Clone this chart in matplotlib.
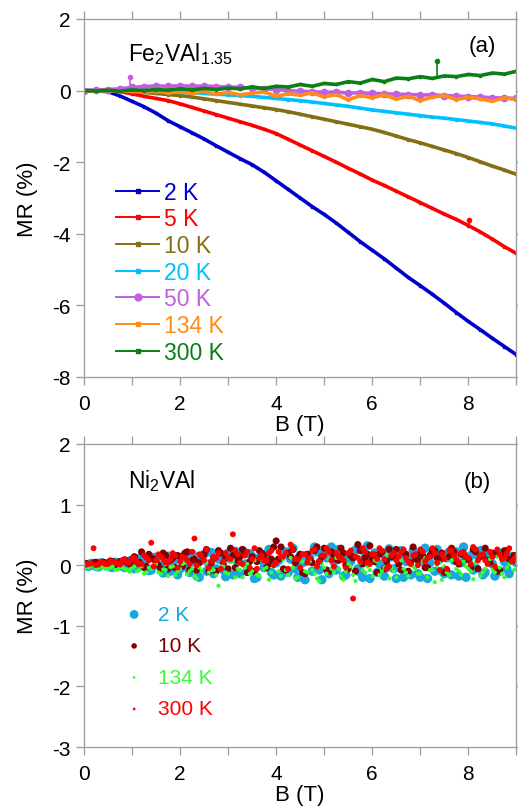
import numpy as np
import matplotlib
matplotlib.use("Agg")
import matplotlib.pyplot as plt
from matplotlib.ticker import MultipleLocator
from matplotlib.lines import Line2D

plt.rcParams['font.family'] = ['Liberation Sans', 'DejaVu Sans']
plt.rcParams['mathtext.fontset'] = 'custom'
plt.rcParams['mathtext.rm'] = 'Liberation Sans'
plt.rcParams['mathtext.it'] = 'Liberation Sans'
plt.rcParams['axes.unicode_minus'] = False

# ---- panel (a): Fe2VAl1.35, field grid 0..9 T in 0.25 T steps
B_a = np.arange(0, 9.01, 0.25)
mr_2K = [0.00, -0.01, -0.03, -0.15, -0.30, -0.45, -0.63, -0.84, -1.01, -1.18,
         -1.35, -1.54, -1.72, -1.90, -2.07, -2.28, -2.52, -2.76, -3.00, -3.24,
         -3.46, -3.70, -3.96, -4.22, -4.46, -4.70, -4.96, -5.22, -5.45, -5.69,
         -5.94, -6.20, -6.45, -6.68, -6.92, -7.15, -7.38]
mr_5K = [0.00, 0.00, -0.01, -0.03, -0.09, -0.16, -0.22, -0.28, -0.37, -0.47,
         -0.57, -0.67, -0.77, -0.87, -0.97, -1.08, -1.20, -1.36, -1.52, -1.68,
         -1.84, -2.00, -2.17, -2.33, -2.50, -2.65, -2.81, -2.97, -3.13, -3.29,
         -3.45, -3.60, -3.77, -3.95, -4.15, -4.36, -4.55]
mr_10K = [0.00, 0.00, 0.00, -0.01, -0.03, -0.05, -0.08, -0.11, -0.14, -0.18,
          -0.23, -0.28, -0.33, -0.38, -0.43, -0.48, -0.53, -0.59, -0.66, -0.73,
          -0.80, -0.87, -0.94, -1.01, -1.08, -1.17, -1.27, -1.37, -1.46, -1.56,
          -1.66, -1.76, -1.87, -1.99, -2.11, -2.22, -2.34]
mr_20K = [0.00, 0.00, -0.01, -0.01, -0.02, -0.02, -0.03, -0.04, -0.05, -0.06,
          -0.08, -0.10, -0.12, -0.14, -0.16, -0.19, -0.22, -0.25, -0.28, -0.32,
          -0.36, -0.40, -0.44, -0.49, -0.54, -0.58, -0.62, -0.66, -0.70, -0.74,
          -0.77, -0.81, -0.85, -0.89, -0.93, -0.99, -1.05]
mr_50K = [0.00, 0.01, 0.03, 0.05, 0.09, 0.11, 0.13, 0.12, 0.14, 0.12,
          0.13, 0.11, 0.10, 0.09, 0.07, 0.05, 0.03, 0.00, -0.02, -0.03,
          -0.05, -0.04, -0.07, -0.06, -0.08, -0.09, -0.10, -0.11, -0.12, -0.12,
          -0.14, -0.15, -0.17, -0.18, -0.20, -0.21, -0.22]
mr_134K = [0.00, -0.02, 0.01, -0.03, -0.01, -0.04, 0.00, -0.06, -0.03, -0.08,
           -0.02, -0.10, -0.05, -0.12, -0.07, -0.04, -0.16, -0.09, -0.13, -0.06,
           -0.18, -0.11, -0.26, -0.14, -0.20, -0.12, -0.24, -0.16, -0.28, -0.18,
           -0.14, -0.25, -0.19, -0.23, -0.30, -0.20, -0.25]
mr_300K = [0.00, -0.01, 0.01, -0.02, 0.02, 0.00, 0.03, 0.01, 0.05, 0.02,
           0.06, 0.03, 0.07, 0.05, 0.10, 0.06, 0.12, 0.10, 0.17, 0.12,
           0.20, 0.17, 0.25, 0.21, 0.31, 0.25, 0.35, 0.33, 0.39, 0.34,
           0.41, 0.39, 0.45, 0.42, 0.49, 0.46, 0.54]
labels_a = ['2 K', '5 K', '10 K', '20 K', '50 K', '134 K', '300 K']
colors_a = ['#0000CC', '#FF0000', '#847014', '#00C0FF', '#C060E0', '#FF8C1A', '#0A7F14']

# isolated spikes seen in the raw data
spike_B = [0.96, 7.34, 8.02]
spike_base = [0.10, 0.37, -3.78]
spike_top = [0.38, 0.83, -3.62]
spike_color = ['#C060E0', '#0A7F14', '#FF0000']

# ---- panel (b): Ni2VAl, up sweep on 0..9 T (0.1 T steps), down sweep in between
B_b_up = np.round(np.arange(0, 9.001, 0.1), 2)
B_b_dn = np.round(np.arange(0.05, 9.0, 0.1), 2)
mr_b_2K = [0.00, -0.02, 0.02, -0.03, 0.03, 0.01, -0.04, 0.04, -0.02, 0.05,
           0.06, -0.05, 0.02, 0.10, -0.08, 0.12, -0.04, 0.08, -0.10, 0.14,
           -0.06, 0.16, -0.12, 0.05, -0.20, 0.18, 0.02, -0.14, 0.10, -0.08,
           0.20, -0.16, 0.06, 0.24, -0.10, 0.14, -0.20, 0.08, 0.18, -0.12,
           0.04, -0.18, 0.22, 0.10, -0.06, 0.16, -0.24, 0.12, 0.30, -0.08,
           0.18, -0.14, 0.06, 0.26, -0.18, 0.10, 0.22, -0.06, -0.20, 0.32,
           0.08, -0.12, 0.20, -0.04, 0.14, -0.22, 0.24, 0.06, -0.16, 0.12,
           -0.20, 0.28, 0.04, -0.10, 0.18, -0.14, 0.22, 0.08, -0.18, 0.30,
           0.10, -0.08, 0.16, -0.16, 0.20, 0.02, -0.12, 0.18, -0.06, 0.14,
           0.04]
mr_b_2K_dn = [-0.01, 0.03, -0.02, 0.04, 0.00, -0.03, 0.05, 0.02, -0.04, 0.07,
              -0.06, 0.11, 0.03, -0.09, 0.13, 0.00, -0.13, 0.15, 0.06, -0.16,
              0.12, -0.04, 0.19, -0.18, 0.08, -0.10, 0.21, -0.06, 0.14, -0.19,
              0.10, 0.23, -0.14, 0.02, 0.19, -0.22, 0.12, -0.04, 0.26, -0.16,
              0.08, 0.20, -0.12, 0.28, -0.20, 0.04, 0.16, -0.10, 0.22, -0.24,
              0.12, 0.30, -0.08, 0.18, -0.16, 0.06, 0.25, -0.12, 0.14, -0.22,
              0.20, 0.02, -0.18, 0.27, -0.06, 0.16, -0.20, 0.10, 0.24, -0.14,
              0.06, -0.22, 0.18, 0.26, -0.10, 0.12, -0.16, 0.22, 0.04, -0.20,
              0.16, -0.04, 0.24, -0.12, 0.10, -0.18, 0.20, 0.06, -0.14, 0.12]
mr_b_10K = [0.02, 0.00, 0.04, 0.01, 0.05, 0.03, 0.06, 0.02, 0.07, 0.04,
            0.10, 0.03, 0.22, -0.02, 0.12, 0.06, -0.06, 0.16, 0.08, -0.04,
            0.14, 0.20, -0.08, 0.10, 0.04, 0.18, -0.10, 0.12, 0.24, 0.02,
            -0.06, 0.16, 0.08, 0.26, -0.12, 0.14, 0.06, 0.20, -0.04, 0.10,
            0.40, 0.30, -0.08, 0.14, 0.04, 0.18, -0.14, 0.10, 0.24, 0.06,
            0.28, -0.10, 0.16, 0.08, 0.20, -0.06, 0.12, 0.34, 0.02, 0.18,
            0.10, -0.12, 0.22, 0.06, 0.14, 0.26, -0.08, 0.18, 0.04, 0.12,
            0.20, -0.04, 0.16, 0.24, 0.08, -0.12, 0.14, 0.22, 0.02, 0.18,
            0.10, 0.26, -0.06, 0.16, 0.08, 0.20, -0.10, 0.14, 0.24, 0.06,
            0.12]
mr_b_10K_dn = [0.03, 0.01, 0.05, 0.02, 0.04, 0.07, 0.01, 0.06, 0.09, 0.02,
               0.14, 0.05, -0.04, 0.18, 0.10, 0.00, 0.20, -0.06, 0.12, 0.16,
               -0.02, 0.22, 0.08, -0.08, 0.16, 0.26, 0.04, -0.10, 0.20, 0.12,
               0.28, -0.04, 0.14, 0.22, 0.06, -0.10, 0.24, 0.16, 0.02, 0.30,
               0.10, -0.06, 0.20, 0.26, 0.12, -0.12, 0.18, 0.04, 0.30, 0.14,
               -0.08, 0.22, 0.10, 0.28, 0.00, 0.16, -0.10, 0.24, 0.12, 0.32,
               0.06, 0.18, -0.06, 0.26, 0.14, 0.02, 0.22, -0.10, 0.30, 0.08,
               0.16, -0.04, 0.24, 0.12, 0.20, -0.08, 0.28, 0.06, 0.18, 0.10,
               -0.04, 0.22, 0.14, 0.28, 0.04, 0.18, -0.08, 0.24, 0.10, 0.16]
mr_b_134K = [-0.02, -0.04, -0.01, -0.05, -0.03, -0.06, -0.02, -0.07, -0.04, -0.08,
             -0.05, -0.10, -0.02, -0.12, -0.06, 0.02, -0.14, -0.08, -0.03, -0.16,
             -0.06, 0.04, -0.10, -0.18, -0.04, 0.06, -0.12, -0.08, -0.34, -0.02,
             -0.14, 0.08, -0.06, -0.20, 0.02, -0.10, -0.16, 0.10, -0.04, -0.12,
             0.04, -0.18, -0.08, 0.12, -0.22, -0.02, -0.10, 0.06, -0.14, -0.26,
             -0.04, 0.10, -0.12, -0.06, -0.24, 0.02, -0.16, 0.14, -0.08, -0.02,
             -0.18, 0.06, -0.10, 0.16, -0.04, -0.20, 0.08, -0.12, 0.00, -0.06,
             -0.14, 0.12, -0.08, -0.28, 0.04, -0.02, -0.16, 0.10, -0.10, 0.06,
             -0.06, -0.23, 0.08, -0.12, 0.02, -0.08, 0.14, -0.14, -0.04, 0.04,
             -0.06]
mr_b_134K_dn = [-0.03, -0.01, -0.05, -0.02, -0.06, -0.04, -0.08, -0.03, -0.06, -0.11,
                -0.02, -0.08, -0.14, -0.04, 0.00, -0.12, -0.07, -0.18, -0.02, -0.10,
                0.02, -0.15, -0.06, -0.22, -0.10, 0.04, -0.08, -0.16, -0.02, -0.12,
                0.06, -0.20, -0.08, -0.04, -0.14, 0.08, -0.18, -0.06, -0.24, -0.02,
                -0.10, 0.10, -0.16, -0.04, -0.20, 0.06, -0.12, -0.08, -0.22, 0.02,
                -0.14, -0.06, 0.12, -0.18, -0.10, -0.02, -0.26, 0.04, -0.12, -0.08,
                0.08, -0.16, -0.04, -0.22, -0.10, 0.10, -0.06, -0.18, -0.02, -0.14,
                0.06, -0.20, -0.08, 0.00, -0.24, -0.12, 0.08, -0.06, -0.16, -0.02,
                -0.10, 0.04, -0.18, -0.06, 0.10, -0.12, -0.04, -0.20, 0.02, -0.08]
mr_b_300K = [0.00, 0.02, 0.28, 0.01, 0.04, 0.02, 0.06, 0.03, 0.08, 0.04,
             0.10, 0.06, 0.02, 0.12, 0.37, 0.08, 0.14, 0.04, 0.10, 0.16,
             0.06, 0.12, 0.02, 0.44, 0.18, 0.08, -0.04, 0.14, 0.20, 0.06,
             0.12, 0.51, 0.18, 0.02, 0.22, 0.10, -0.06, 0.16, 0.08, 0.24,
             0.04, 0.14, 0.20, 0.34, 0.10, -0.04, 0.18, 0.12, 0.26, 0.06,
             0.16, 0.22, -0.02, 0.14, 0.08, 0.20, -0.55, 0.12, 0.28, 0.04,
             0.18, 0.10, 0.24, -0.06, 0.16, 0.08, 0.22, 0.12, 0.02, 0.18,
             0.26, 0.06, 0.14, 0.20, -0.08, 0.10, 0.24, 0.16, 0.04, 0.22,
             0.12, 0.30, 0.08, 0.18, 0.02, 0.14, 0.26, 0.10, 0.20, 0.06,
             0.16]
mr_b_300K_dn = [0.01, 0.03, 0.00, 0.05, 0.02, 0.07, 0.04, 0.01, 0.09, 0.05,
                0.12, 0.02, 0.16, 0.08, -0.02, 0.18, 0.10, 0.04, 0.20, -0.04,
                0.14, 0.08, 0.22, 0.00, 0.16, 0.26, 0.06, 0.12, -0.06, 0.20,
                0.10, 0.24, 0.04, 0.16, -0.04, 0.28, 0.12, 0.08, 0.20, 0.00,
                0.22, 0.14, -0.06, 0.26, 0.10, 0.18, 0.04, 0.24, -0.02, 0.16,
                0.28, 0.08, 0.20, 0.12, -0.04, 0.24, 0.14, 0.06, 0.22, 0.02,
                0.18, 0.28, 0.10, -0.02, 0.20, 0.14, 0.26, 0.06, 0.16, 0.00,
                0.22, 0.12, 0.28, 0.04, 0.18, -0.06, 0.24, 0.10, 0.20, 0.14,
                0.02, 0.26, 0.16, 0.08, 0.22, -0.02, 0.18, 0.12, 0.28, 0.10]
labels_b = ['2 K', '10 K', '134 K', '300 K']
colors_b = ['#18A8E0', '#800000', '#33FF33', '#FF0000']
sizes_b = [45, 26, 9, 18]
legend_sizes_b = [40, 16, 4, 4]

frame = '#A0A0A0'


def style_axes(ax, ymin, ymax, ystep):
    ax.set_xlim(0, 9)
    ax.set_ylim(ymin, ymax)
    ax.xaxis.set_major_locator(MultipleLocator(2))
    ax.xaxis.set_minor_locator(MultipleLocator(1))
    ax.yaxis.set_major_locator(MultipleLocator(ystep))
    for s in ax.spines.values():
        s.set_color(frame)
        s.set_linewidth(1.0)
    ax.tick_params(which='both', direction='out', length=6, width=1,
                   color=frame, labelsize=15, top=True)
    ax.tick_params(axis='x', which='both', pad=6)
    ax.tick_params(axis='y', which='both', pad=3.5, right=True)
    ax.set_xlabel('B (T)', fontsize=16, labelpad=1)
    ax.set_ylabel('MR (%)', fontsize=16, labelpad=10)


fig = plt.figure(figsize=(5.18, 8.12), dpi=100)
ax1 = fig.add_axes([0.162, 0.5345, 0.835, 0.4409])
ax2 = fig.add_axes([0.162, 0.0788, 0.835, 0.3732])

series_a = [mr_2K, mr_5K, mr_10K, mr_20K, mr_50K, mr_134K, mr_300K]
handles_a = []
for vals, lab, col in zip(series_a, labels_a, colors_a):
    mk, ms = ('o', 4.5) if lab == '50 K' else ('s', 2)
    ax1.plot(B_a, vals, '-', color=col, lw=2.6, marker=mk, ms=ms)
    handles_a.append(Line2D([], [], color=col, lw=1.4, marker=mk, ms=ms + 0.5))
for xb, y0, y1, col in zip(spike_B, spike_base, spike_top, spike_color):
    ax1.plot([xb, xb], [y0, y1], color=col, lw=1.2)
    ax1.plot([xb], [y1], 'o', color=col, ms=3)

style_axes(ax1, -8, 2, 2)
ax1.text(0.102, 0.905, 'Fe$_2$VAl$_{1.35}$', transform=ax1.transAxes, fontsize=16.5,
         ha='left', va='center')
ax1.text(0.921, 0.927, '(a)', transform=ax1.transAxes, fontsize=16, ha='center', va='center')
leg1 = ax1.legend(handles_a, labels_a, loc='upper left', bbox_to_anchor=(0.075, 0.548),
                  frameon=False, fontsize=16.5, handlelength=1.85, handletextpad=0.25,
                  labelspacing=0.16, borderpad=0, borderaxespad=0)
for t, col in zip(leg1.get_texts(), colors_a):
    t.set_color(col)

series_b = [(mr_b_2K, mr_b_2K_dn), (mr_b_10K, mr_b_10K_dn),
            (mr_b_134K, mr_b_134K_dn), (mr_b_300K, mr_b_300K_dn)]
for (up, dn), lab, col, sz in zip(series_b, labels_b, colors_b, sizes_b):
    ax2.scatter(B_b_up, up, s=sz, color=col, edgecolors='none', label=lab)
    ax2.scatter(B_b_dn, dn, s=sz, color=col, edgecolors='none')

style_axes(ax2, -3, 2, 1)
ax2.text(0.102, 0.88, 'Ni$_2$VAl', transform=ax2.transAxes, fontsize=16.5,
         ha='left', va='center')
ax2.text(0.91, 0.875, '(b)', transform=ax2.transAxes, fontsize=16, ha='center', va='center')
leg2 = ax2.legend(loc='upper left', bbox_to_anchor=(0.092, 0.469), frameon=False,
                  fontsize=15, handlelength=1.0, handletextpad=0.65,
                  labelspacing=0.6, borderpad=0, borderaxespad=0, scatterpoints=1)
for t, h, col, sz in zip(leg2.get_texts(), leg2.legend_handles, colors_b, legend_sizes_b):
    t.set_color(col)
    h.set_sizes([sz])

fig.savefig('out.png', dpi=100)
